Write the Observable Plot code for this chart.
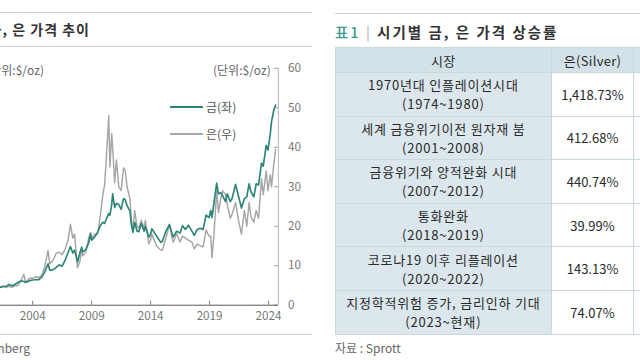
<!DOCTYPE html>
<html><head><meta charset="utf-8">
<script src="https://cdn.jsdelivr.net/npm/d3@7"></script>
<script src="https://cdn.jsdelivr.net/npm/@observablehq/plot@0.6"></script>
<style>
body{margin:0;width:640px;height:360px;overflow:hidden;background:#fff;font-family:"Noto Sans CJK KR","Noto Sans",sans-serif;position:relative;color:#444;}
.abs{position:absolute;white-space:nowrap;}
.rule{position:absolute;left:0;height:1px;background:#cfcfcf;}
.title{font-size:14px;font-weight:700;color:#333;letter-spacing:1px;}
.unit{font-size:12px;color:#666;}
.leg{font-size:12px;color:#555;}
.legline{position:absolute;height:1.5px;width:33px;}
table{border-collapse:collapse;font-size:13px;color:#2a2a2a;}
td,th{border:1px solid #c9d8de;text-align:center;padding:0;font-weight:400;line-height:19px;}
th{background:#d3e2e8;height:24px;letter-spacing:0.3px;}
td.cat{background:#dbe7ec;letter-spacing:0.8px;}
td.val{background:#fff;}
</style></head><body>

<div id="left" class="abs" style="left:0;top:0;width:312px;height:360px;overflow:hidden">
  <div class="rule" style="top:12px;width:312px"></div>
  <div class="abs title" style="right:222px;top:19px">금, 은 가격 추이</div>
  <div class="rule" style="top:46px;width:312px"></div>
  <div class="abs unit" style="right:268px;top:61px">(단위:$/oz)</div>
  <div class="abs unit" style="left:213px;top:61px">(단위:$/oz)</div>
  <div id="chart" class="abs" style="left:0;top:60px"></div>
  <div class="legline" id="lg1" style="left:170px;top:106px"></div>
  <div class="abs leg" style="left:206px;top:98px">금(좌)</div>
  <div class="legline" id="lg2" style="left:170px;top:133px"></div>
  <div class="abs leg" style="left:206px;top:125px">은(우)</div>
  <div class="rule" style="top:334px;width:312px"></div>
  <div class="abs unit" style="right:282px;top:339px">자료 : Bloomberg</div>
</div>

<div class="rule" style="left:335px;top:13px;width:305px"></div>
<div class="abs title" style="left:335px;top:21px;font-size:14.5px;letter-spacing:2px"><span style="color:#3a9a8a;font-weight:500">표1</span> <span style="color:#aaa;font-weight:400">|</span> 시기별 금, 은 가격 상승률</div>
<div class="abs" style="left:335px;top:47px;width:380px">
<table id="tbl"></table>
</div>
<div class="abs unit" style="left:335px;top:339px">자료 : Sprott</div>

<script>
// ---- chart data (x in axis years as drawn) ----
const dates = [2001.25,2001.5,2001.75,2002.0,2002.25,2002.5,2002.75,2003.0,2003.25,2003.4,2003.75,2004.0,2004.25,2004.5,2004.75,2005.0,2005.3,2005.45,2005.75,2006.0,2006.25,2006.5,2006.75,2007.0,2007.2,2007.4,2007.55,2007.8,2008.0,2008.15,2008.25,2008.5,2008.75,2008.9,2009.0,2009.25,2009.5,2009.75,2009.95,2010.1,2010.3,2010.45,2010.55,2010.7,2010.78,2010.95,2011.1,2011.3,2011.5,2011.7,2011.85,2012.0,2012.25,2012.35,2012.5,2012.65,2012.85,2013.0,2013.2,2013.45,2013.55,2013.85,2014.0,2014.1,2014.5,2014.85,2015.0,2015.3,2015.6,2015.9,2016.0,2016.2,2016.5,2016.7,2016.95,2017.2,2017.5,2017.7,2017.95,2018.2,2018.45,2018.7,2018.95,2019.1,2019.2,2019.35,2019.6,2019.75,2019.95,2020.1,2020.35,2020.5,2020.75,2020.9,2021.2,2021.45,2021.7,2021.95,2022.15,2022.35,2022.5,2022.75,2022.95,2023.15,2023.4,2023.55,2023.8,2023.95,2024.15,2024.25,2024.45,2024.6];
const gold = [302,315,318,350,330,350,385,410,400,385,415,425,430,430,470,550,700,590,600,640,680,660,760,890,990,880,930,730,880,980,900,940,1050,1200,1100,1150,1230,1350,1400,1380,1480,1550,1520,1700,1880,1650,1720,1700,1620,1800,1780,1680,1590,1380,1230,1400,1250,1240,1380,1250,1330,1150,1200,1290,1170,1060,1080,1250,1360,1150,1180,1250,1220,1340,1280,1350,1250,1180,1280,1300,1280,1520,1480,1600,1480,1700,2060,1880,1900,1850,1750,1880,1750,1800,2040,1840,1640,1800,1830,2050,1920,1830,2050,2030,2400,2350,2700,2620,2900,3100,3300,3380];
const silver = [4.6,4.9,4.5,4.8,4.5,4.9,5.0,6.2,7.8,5.9,6.9,6.8,7.2,7.0,7.6,9.5,13.8,10.5,11.5,13.2,13.4,12.8,14.2,16.5,20.5,17.0,18.0,9.5,11.0,14.0,12.5,13.5,17.0,18.5,17.0,18.0,18.0,23.0,28.0,30.5,40.0,48.0,35.0,43.5,40.0,31.0,36.8,30.0,29.0,34.8,34.0,30.0,27.0,22.0,19.0,24.0,20.0,19.5,21.5,19.5,21.5,15.5,16.5,18.0,15.0,14.0,14.0,17.0,20.5,16.0,16.5,18.2,16.0,17.5,17.0,16.5,16.0,14.3,15.5,15.0,14.8,19.0,17.5,17.5,12.0,17.0,29.0,23.5,27.0,29.0,28.0,25.5,22.0,23.0,26.0,21.5,18.0,24.0,20.0,26.0,22.5,21.0,24.0,22.0,32.0,28.0,34.0,29.0,33.0,30.0,36.0,39.5];
const xTicks = [2004, 2009, 2014, 2019, 2024];
const yTicks = [0, 10, 20, 30, 40, 50, 60];
const xDomain = [2001.27, 2024.83];
const rightAxisMax = 60;
const goldAxisMax = 4000;
const seriesNames = ["금(좌)", "은(우)"];

// ---- table data ----
const tableHeaders = ["시장", "은(Silver)", "금(Gold)"];
const periods = ["1970년대 인플레이션시대", "세계 금융위기이전 원자재 붐", "금융위기와 양적완화 시대", "통화완화", "코로나19 이후 리플레이션", "지정학적위험 증가, 금리인하 기대"];
const periodRanges = ["(1974~1980)", "(2001~2008)", "(2007~2012)", "(2018~2019)", "(2020~2022)", "(2023~현재)"];
const silverReturns = ["1,418.73%", "412.68%", "440.74%", "39.99%", "143.13%", "74.07%"];

const GOLD_COLOR = "#2b8576", SILVER_COLOR = "#a6a6a6";
document.getElementById("lg1").style.background = GOLD_COLOR;
document.getElementById("lg2").style.background = SILVER_COLOR;

const rows = dates.map((t, i) => ({t, gold: gold[i], silver: silver[i]}));

const chart = Plot.plot({
  width: 320, height: 275,
  marginLeft: 0, marginRight: 35, marginTop: 8, marginBottom: 24,
  x: {domain: xDomain},
  y: {domain: [0, rightAxisMax]},
  style: {fontFamily: '"Noto Sans CJK KR","Noto Sans",sans-serif', fontSize: "12px", color: "#777", background: "transparent", overflow: "visible"},
  marks: [
    Plot.ruleX([xDomain[1]], {stroke: "#b5b5b5"}),
    Plot.tickY(yTicks, {y: d => d, insetLeft: 281, stroke: "#999"}),
    Plot.lineY(rows, {x: "t", y: "silver", stroke: SILVER_COLOR, strokeWidth: 1.5, clip: true}),
    Plot.lineY(rows, {x: "t", y: d => d.gold * rightAxisMax / goldAxisMax, stroke: GOLD_COLOR, strokeWidth: 1.7, clip: true}),
    Plot.ruleY([0], {stroke: "#555"}),
    Plot.tickX(xTicks, {x: d => d, insetTop: 239, stroke: "#777"}),
    Plot.axisX({ticks: xTicks, tickFormat: d => String(d), tickSize: 0, tickPadding: 7, label: null}),
    Plot.axisY({anchor: "right", ticks: yTicks, tickSize: 0, tickPadding: 10, label: null})
  ]
});
document.getElementById("chart").appendChild(chart);

// ---- table ----
const tbl = document.getElementById("tbl");
const colW = [215, 82, 80];
let html = "<tr>" + tableHeaders.map((h, i) => `<th style="width:${colW[i]}px">${h}</th>`).join("") + "</tr>";
periods.forEach((p, i) => {
  html += `<tr style="height:43.6px"><td class="cat">${p}<br>${periodRanges[i]}</td><td class="val">${silverReturns[i]}</td><td class="val"></td></tr>`;
});
tbl.innerHTML = html;
</script>
</body></html>
